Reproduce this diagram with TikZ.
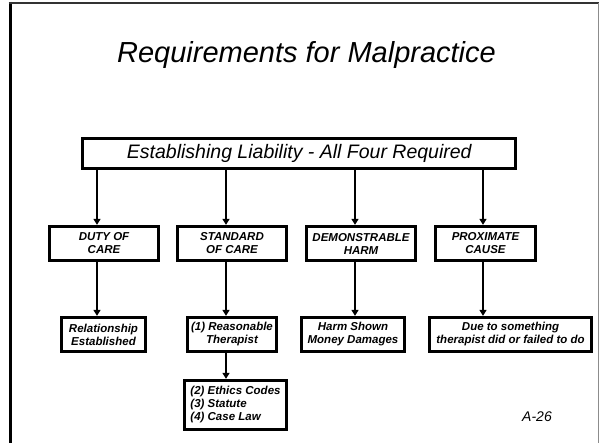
\documentclass[tikz,border=0pt]{standalone}
\usepackage{fontspec}
\setmainfont{Liberation Sans}
\usetikzlibrary{arrows.meta}
\begin{document}
\begin{tikzpicture}[x=1pt,y=-1pt,
  box/.style={draw=black,line width=2.8pt,fill=white,inner sep=1pt,align=center,
    font=\fontsize{11.5}{13}\selectfont\bfseries\itshape},
  conn/.style={line width=2pt,shorten <=-1.2pt,-{Triangle[length=6pt,width=7pt]}},
]
\useasboundingbox (0,0) rectangle (601,443);
% frame
\draw[line width=3pt,black] (10,2) -- (10,443);
\draw[line width=2pt,black!80] (8.5,3) -- (598.5,3);
\draw[line width=1pt,black!45] (598,3) -- (598,443);
% title
\node[anchor=base] (title) at (306.5,63) {\fontsize{29}{32}\selectfont\itshape Requirements for Malpractice};
% top box
\node[box,minimum width=433pt,minimum height=30.5pt,font=\fontsize{19.5}{22}\selectfont\itshape] (top) at (299.3,153.5) {Establishing Liability - All Four Required};
% row 1
\node[box,minimum width=109.5pt,minimum height=34.5pt] (duty) at (104,243.5) {DUTY OF\\CARE};
\node[box,minimum width=109.5pt,minimum height=34.5pt] (std) at (232,243.5) {STANDARD\\OF CARE};
\node[box,minimum width=109.5pt,minimum height=34.5pt] (dem) at (361,243.5) {DEMONSTRABLE\\HARM};
\node[box,minimum width=100.5pt,minimum height=34.5pt] (prox) at (485.5,243.5) {PROXIMATE\\CAUSE};
% row 2
\node[box,minimum width=84.5pt,minimum height=34.5pt] (rel) at (103.5,334.5) {Relationship\\Established};
\node[box,minimum width=89pt,minimum height=34.5pt] (reas) at (232,334.5) {(1) Reasonable\\Therapist};
\node[box,minimum width=103.5pt,minimum height=34.5pt] (harm) at (353,334.5) {Harm Shown\\Money Damages};
\node[box,minimum width=162.5pt,minimum height=34.5pt] (due) at (510.5,334.5) {Due to something\\therapist did or failed to do};
% row 3
\node[box,minimum width=102.5pt,minimum height=49.5pt,align=left] (eth) at (235.5,405) {(2) Ethics Codes\\(3) Statute\\(4) Case Law};
% page number
\node (pg) at (537,417) {\fontsize{14}{16}\selectfont\itshape A-26};
% connectors
\coordinate (x1) at (97,0);
\coordinate (x2) at (226,0);
\coordinate (x3) at (355,0);
\coordinate (x4) at (483,0);
\draw[conn] (top.south -| x1) -- (duty.north -| x1);
\draw[conn] (top.south -| x2) -- (std.north -| x2);
\draw[conn] (top.south -| x3) -- (dem.north -| x3);
\draw[conn] (top.south -| x4) -- (prox.north -| x4);
\draw[conn] (duty.south -| x1) -- (rel.north -| x1);
\draw[conn] (std.south -| x2) -- (reas.north -| x2);
\draw[conn] (dem.south -| x3) -- (harm.north -| x3);
\draw[conn] (prox.south -| x4) -- (due.north -| x4);
\draw[conn] (reas.south -| x2) -- (eth.north -| x2);
\end{tikzpicture}
\end{document}
